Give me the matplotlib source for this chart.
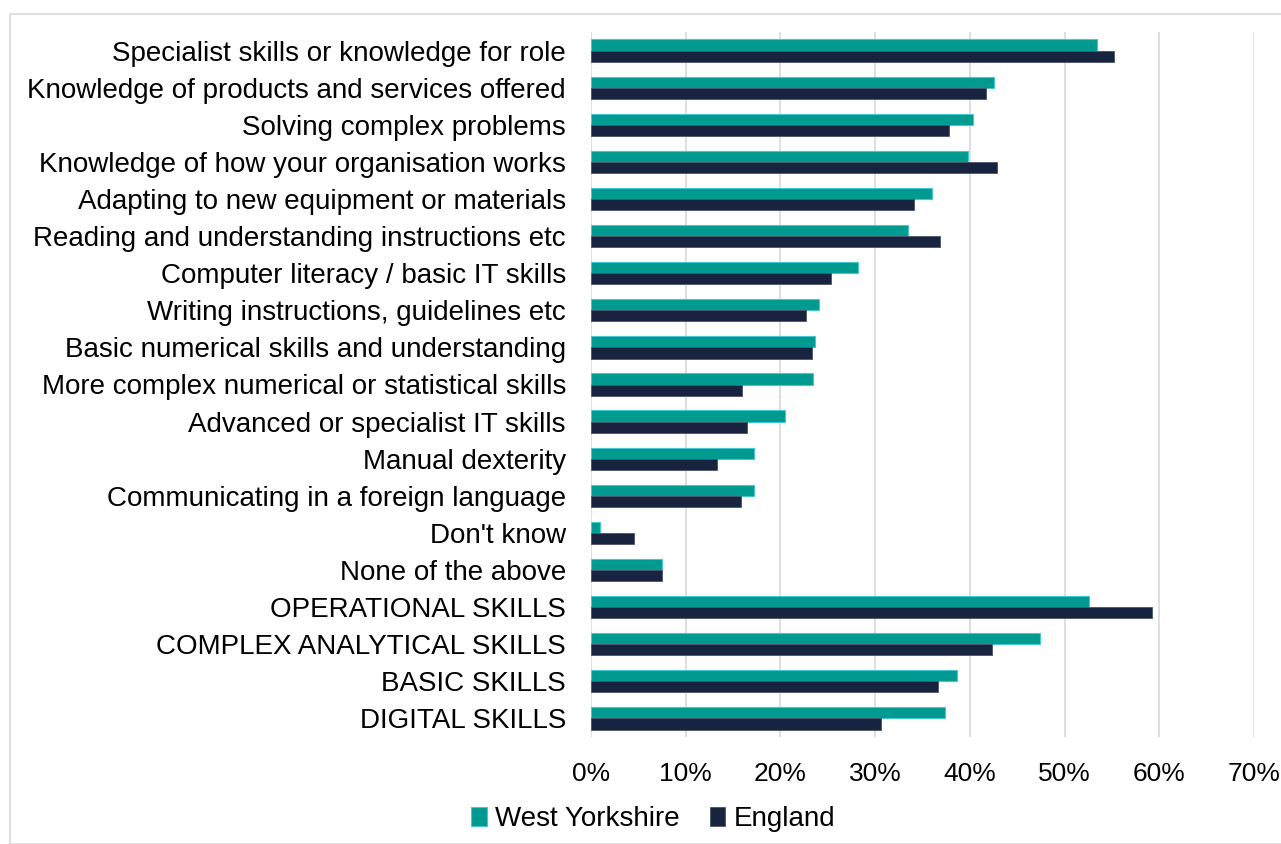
import matplotlib.pyplot as plt
import numpy as np
from matplotlib.patches import Rectangle
from matplotlib.ticker import FuncFormatter

plt.rcParams['font.family'] = ['Liberation Sans', 'DejaVu Sans']

categories = [
    "Specialist skills or knowledge for role",
    "Knowledge of products and services offered",
    "Solving complex problems",
    "Knowledge of how your organisation works",
    "Adapting to new equipment or materials",
    "Reading and understanding instructions etc",
    "Computer literacy / basic IT skills",
    "Writing instructions, guidelines etc",
    "Basic numerical skills and understanding",
    "More complex numerical or statistical skills",
    "Advanced or specialist IT skills",
    "Manual dexterity",
    "Communicating in a foreign language",
    "Don't know",
    "None of the above",
    "OPERATIONAL SKILLS",
    "COMPLEX ANALYTICAL SKILLS",
    "BASIC SKILLS",
    "DIGITAL SKILLS",
]
west_yorkshire = [53.4, 42.5, 40.3, 39.8, 36.0, 33.5, 28.2, 24.1, 23.6, 23.4,
                  20.5, 17.2, 17.2, 1.0, 7.5, 52.6, 47.4, 38.6, 37.4]
england = [55.2, 41.7, 37.8, 42.9, 34.1, 36.8, 25.3, 22.7, 23.3, 15.9,
           16.5, 13.3, 15.8, 4.5, 7.5, 59.2, 42.3, 36.6, 30.6]

fig = plt.figure(figsize=(12.81, 8.44), dpi=100)
ax = fig.add_axes([591 / 1281, 107 / 844, 663 / 1281, 705 / 844])

y = np.arange(len(categories))
h = 0.3
ax.barh(y - h / 2, west_yorkshire, height=h, color="#009A90",
        edgecolor="#45C8D2", linewidth=0.8, label="West Yorkshire", zorder=3)
ax.barh(y + h / 2, england, height=h, color="#18233F",
        edgecolor="#4A5468", linewidth=0.6, label="England", zorder=3)

ax.set_ylim(len(categories) - 0.5, -0.5)
ax.set_xlim(0, 70)
ax.set_xticks(np.arange(0, 71, 10))
ax.xaxis.set_major_formatter(FuncFormatter(lambda v, p: f"{v:.0f}%"))
ax.set_yticks(y)
ax.set_yticklabels(categories)
ax.tick_params(axis="y", length=0, pad=18, labelsize=20)
ax.tick_params(axis="x", length=0, pad=18, labelsize=19)
ax.grid(axis="x", color="#D9D9D9", linewidth=1.2, zorder=0)
ax.set_axisbelow(True)
for s in ax.spines.values():
    s.set_visible(False)

fig.legend(loc="center", bbox_to_anchor=(0.51, 1 - 819 / 844), ncol=2,
           frameon=False, fontsize=20, handlelength=0.55, handleheight=0.7,
           handletextpad=0.3, columnspacing=1.1)

fig.patches.append(Rectangle((10 / 1281, 0), 1.0, 1 - 14 / 844,
                             transform=fig.transFigure, fill=False,
                             edgecolor="#D9D9D9", linewidth=1.2))

fig.savefig("out.png", dpi=100)
